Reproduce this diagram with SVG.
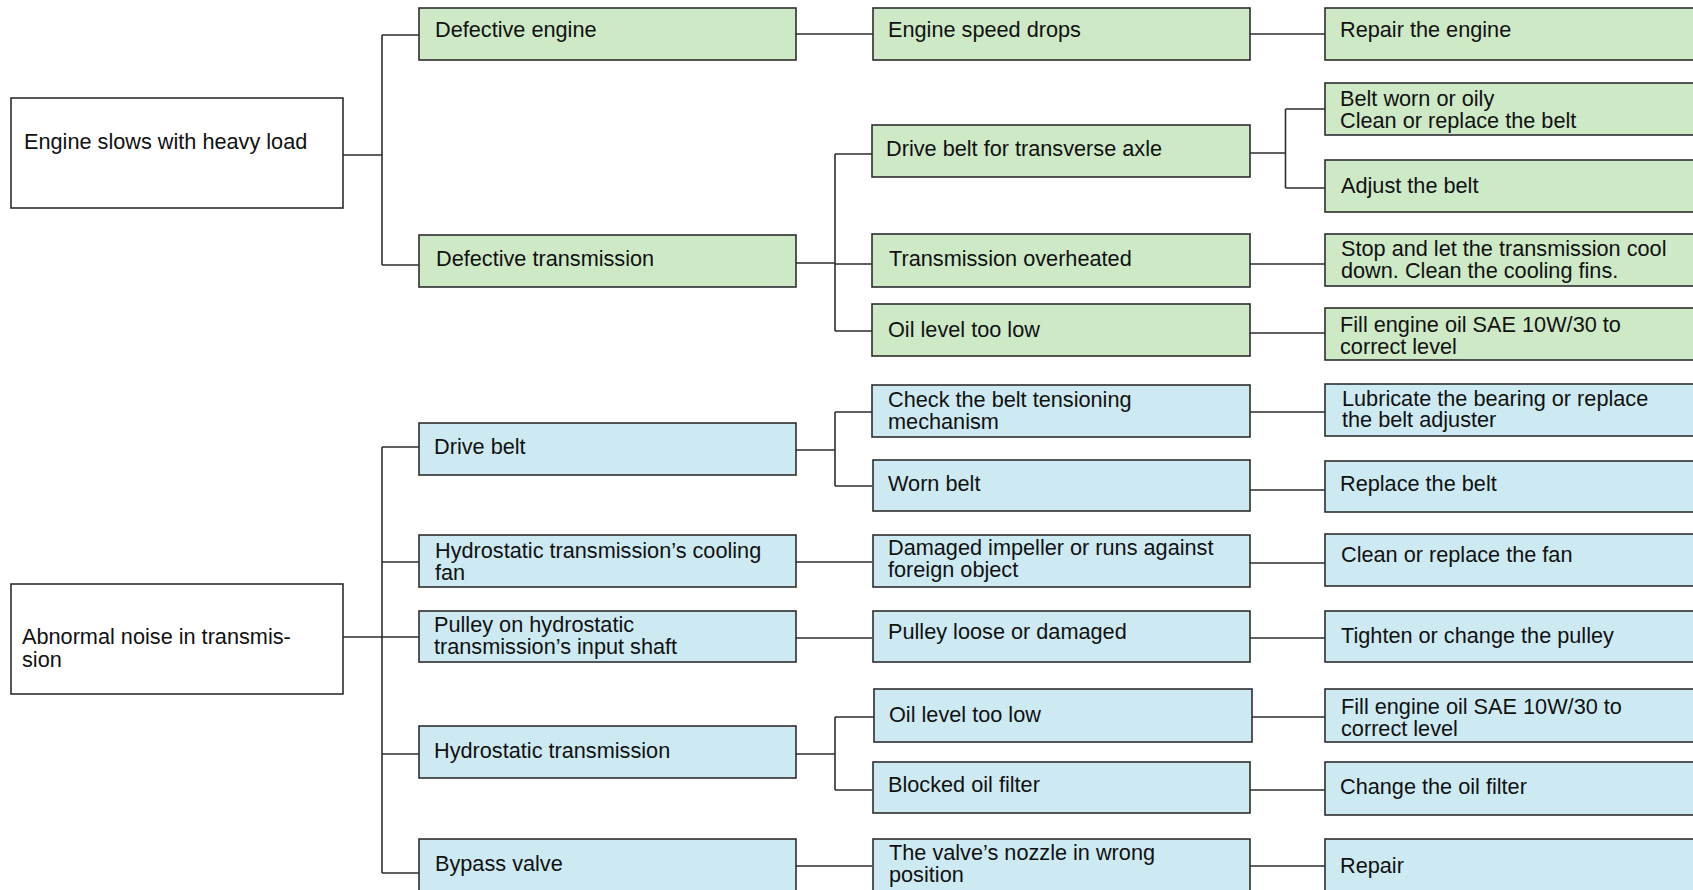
<svg xmlns="http://www.w3.org/2000/svg" width="1693" height="890" viewBox="0 0 1693 890">
<style>
rect{stroke:#2e2e2e;stroke-width:1.6}
.root{fill:#ffffff}
.g{fill:#cde9c6}
.b{fill:#cdeaf2}
text{font-family:"Liberation Sans",Arial,sans-serif;font-size:21.7px;fill:#111}
#connectors path{fill:none;stroke:#2e2e2e;stroke-width:1.6}
</style>
<rect width="1693" height="890" fill="#ffffff" style="stroke:none"/>
<g id="connectors">
<path d="M343,155H382M382,35V265M382,35H419M382,265H419"/>
<path d="M796,34H873M1250,34H1325"/>
<path d="M796,263H835M835,154V331M835,154H872M835,264H872M835,331H872"/>
<path d="M1250,153H1285.5M1285.5,109V188M1285.5,109H1325M1285.5,188H1325"/>
<path d="M1250,264H1325M1250,333H1325"/>
<path d="M343,637H382M382,447V873M382,447H419M382,562H419M382,637H419M382,754H419M382,873H419"/>
<path d="M796,450H835M835,412V486M835,412H872M835,486H872"/>
<path d="M1250,412H1325M1250,490H1325"/>
<path d="M796,562H872M1250,563H1325"/>
<path d="M796,638H872M1250,638H1325"/>
<path d="M796,754H835M835,717V790M835,717H874M835,790H872"/>
<path d="M1252,717H1325M1250,790H1325"/>
<path d="M796,866H872M1250,866H1325"/>
</g>
<g id="root1"><rect class="root" x="11" y="98" width="332" height="110"/><text x="24" y="149">Engine slows with heavy load</text></g>
<g id="root2"><rect class="root" x="11" y="584" width="332" height="110"/><text x="22" y="644">Abnormal noise in transmis-</text><text x="22" y="666.5">sion</text></g>

<g id="defective-engine"><rect class="g" x="419" y="8" width="377" height="52"/><text x="435" y="37">Defective engine</text></g>
<g id="defective-transmission"><rect class="g" x="419" y="235" width="377" height="52"/><text x="436" y="265.5">Defective transmission</text></g>
<g id="drive-belt"><rect class="b" x="419" y="423" width="377" height="52"/><text x="434" y="454">Drive belt</text></g>
<g id="cooling-fan"><rect class="b" x="419" y="535" width="377" height="52"/><text x="435" y="558">Hydrostatic transmission’s cooling</text><text x="435" y="580">fan</text></g>
<g id="pulley"><rect class="b" x="419" y="611" width="377" height="51"/><text x="434" y="631.5">Pulley on hydrostatic</text><text x="434" y="654">transmission’s input shaft</text></g>
<g id="hydrostatic"><rect class="b" x="419" y="726" width="377" height="52"/><text x="434" y="757.5">Hydrostatic transmission</text></g>
<g id="bypass"><rect class="b" x="419" y="839" width="377" height="60"/><text x="435" y="871">Bypass valve</text></g>

<g id="engine-speed"><rect class="g" x="873" y="8" width="377" height="52"/><text x="888" y="37.3">Engine speed drops</text></g>
<g id="drive-belt-axle"><rect class="g" x="872" y="125" width="378" height="52"/><text x="886" y="156">Drive belt for transverse axle</text></g>
<g id="overheated"><rect class="g" x="872" y="234" width="378" height="53"/><text x="889" y="265.5">Transmission overheated</text></g>
<g id="oil-low-1"><rect class="g" x="872" y="304" width="378" height="52"/><text x="888" y="337">Oil level too low</text></g>
<g id="check-belt"><rect class="b" x="872" y="385" width="378" height="52"/><text x="888" y="406.5">Check the belt tensioning</text><text x="888" y="429">mechanism</text></g>
<g id="worn-belt"><rect class="b" x="873" y="460" width="377" height="51"/><text x="888" y="490.5">Worn belt</text></g>
<g id="impeller"><rect class="b" x="873" y="535" width="377" height="52"/><text x="888" y="555">Damaged impeller or runs against</text><text x="888" y="576.5">foreign object</text></g>
<g id="pulley-loose"><rect class="b" x="873" y="611" width="377" height="51"/><text x="888" y="639">Pulley loose or damaged</text></g>
<g id="oil-low-2"><rect class="b" x="874" y="689" width="378" height="53"/><text x="889" y="721.5">Oil level too low</text></g>
<g id="blocked-filter"><rect class="b" x="873" y="762" width="377" height="51"/><text x="888" y="792">Blocked oil filter</text></g>
<g id="nozzle"><rect class="b" x="873" y="839" width="377" height="60"/><text x="889" y="860">The valve’s nozzle in wrong</text><text x="889" y="881.5">position</text></g>

<g id="repair-engine"><rect class="g" x="1325" y="8" width="400" height="52"/><text x="1340" y="37.3">Repair the engine</text></g>
<g id="belt-worn"><rect class="g" x="1325" y="83" width="400" height="52"/><text x="1340" y="106">Belt worn or oily</text><text x="1340" y="127.5">Clean or replace the belt</text></g>
<g id="adjust-belt"><rect class="g" x="1325" y="160" width="400" height="52"/><text x="1341" y="192.5">Adjust the belt</text></g>
<g id="cool-down"><rect class="g" x="1325" y="234" width="400" height="52"/><text x="1341" y="255.5">Stop and let the transmission cool</text><text x="1341" y="277.5">down. Clean the cooling fins.</text></g>
<g id="fill-oil-1"><rect class="g" x="1325" y="308" width="400" height="52"/><text x="1340" y="331.5">Fill engine oil SAE 10W/30 to</text><text x="1340" y="354">correct level</text></g>
<g id="lubricate"><rect class="b" x="1325" y="384" width="400" height="52"/><text x="1342" y="405.5">Lubricate the bearing or replace</text><text x="1342" y="427">the belt adjuster</text></g>
<g id="replace-belt"><rect class="b" x="1325" y="461" width="400" height="51"/><text x="1340" y="490.5">Replace the belt</text></g>
<g id="clean-fan"><rect class="b" x="1325" y="534" width="400" height="52"/><text x="1341" y="562">Clean or replace the fan</text></g>
<g id="tighten"><rect class="b" x="1325" y="611" width="400" height="51"/><text x="1341" y="642.5">Tighten or change the pulley</text></g>
<g id="fill-oil-2"><rect class="b" x="1325" y="689" width="400" height="53"/><text x="1341" y="714">Fill engine oil SAE 10W/30 to</text><text x="1341" y="736">correct level</text></g>
<g id="change-filter"><rect class="b" x="1325" y="762" width="400" height="53"/><text x="1340" y="794">Change the oil filter</text></g>
<g id="repair"><rect class="b" x="1325" y="839" width="400" height="60"/><text x="1340" y="872.5">Repair</text></g>
</svg>
